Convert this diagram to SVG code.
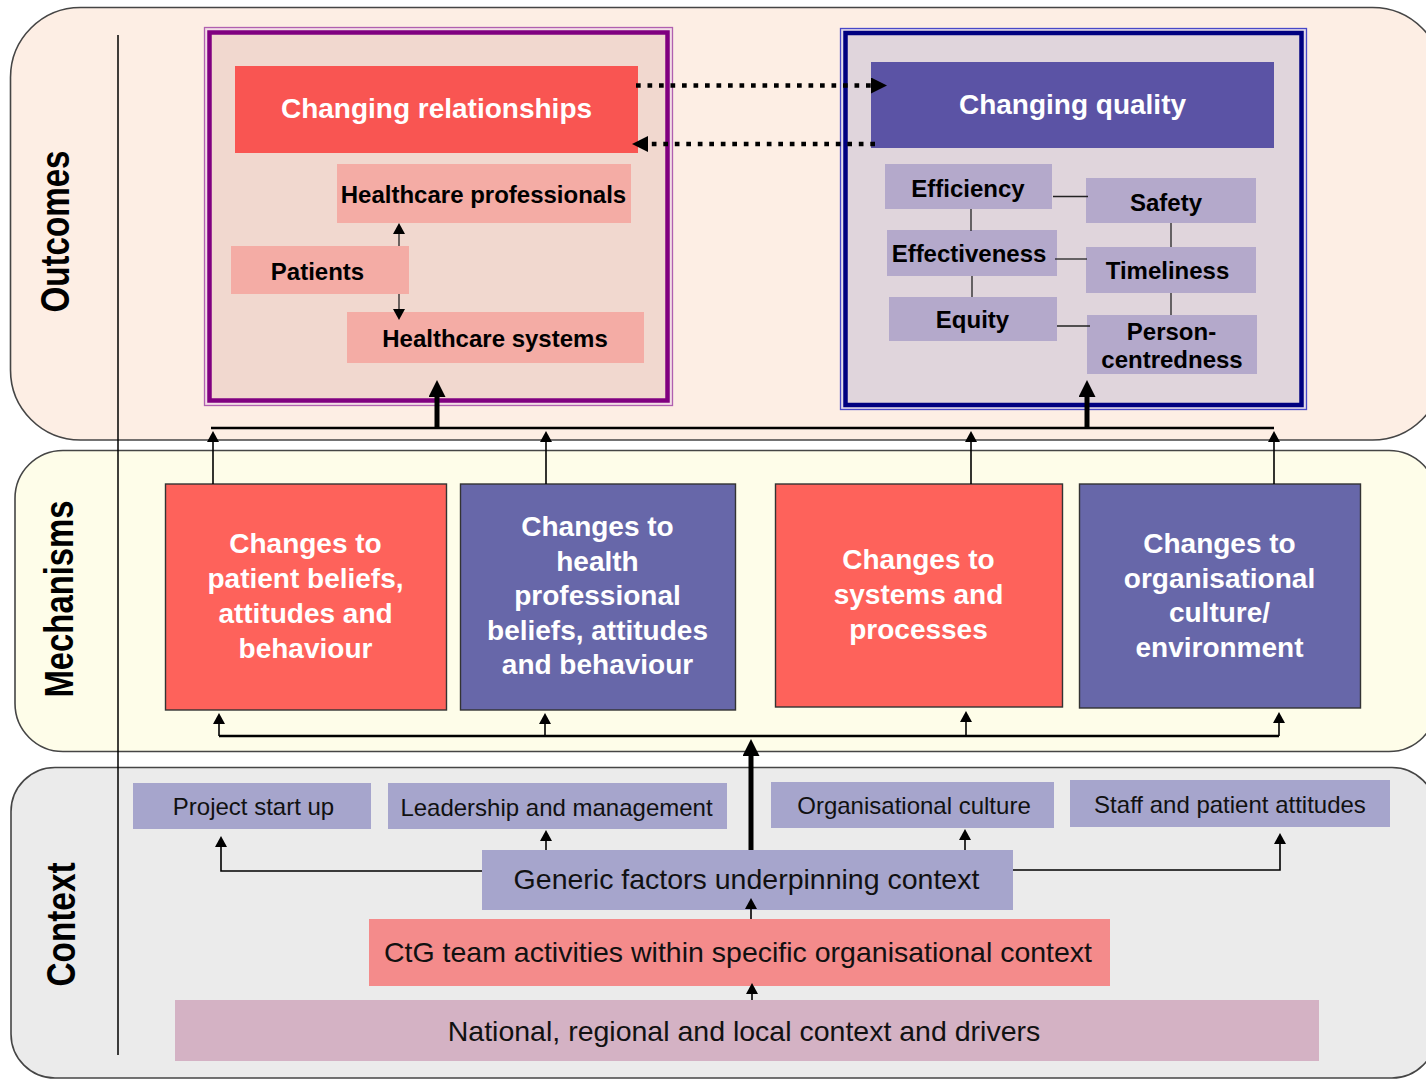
<svg xmlns="http://www.w3.org/2000/svg" width="1426" height="1079" viewBox="0 0 1426 1079">
  <style>
    .band { stroke: #454545; stroke-width: 1.6; }
    .side { font-family: "Liberation Sans", Arial, sans-serif; font-weight: bold; font-size: 40px; fill: #000; text-anchor: middle; }
    .t { font-family: "Liberation Sans", Arial, sans-serif; text-anchor: middle; }
    .hw { font-weight: bold; font-size: 28px; fill: #fff; }
    .sb { font-weight: bold; font-size: 24px; fill: #000; }
    .cs { font-size: 24px; fill: #111; }
    .cl { font-size: 28.5px; fill: #111; }
    .mech { stroke: #333; stroke-width: 1.4; }
    .ln { fill: none; stroke: #000; stroke-width: 1.6; }
    .thin { fill: none; stroke: #222; stroke-width: 1.3; }
    .bar { fill: none; stroke: #000; stroke-width: 2.6; }
    .fat { fill: none; stroke: #000; stroke-width: 5; }
    .dot { fill: none; stroke: #000; stroke-width: 4.7; stroke-dasharray: 4.7 6.8; }
  </style>
  <defs>
    <marker id="head-s" viewBox="0 0 11 12" markerWidth="11" markerHeight="12" refX="1" refY="6" orient="auto" markerUnits="userSpaceOnUse">
      <path d="M0,0 L11,6 L0,12 z" fill="#000"/>
    </marker>
    <marker id="head-l" viewBox="0 0 17 17" markerWidth="17" markerHeight="17" refX="1" refY="8.5" orient="auto" markerUnits="userSpaceOnUse">
      <path d="M0,0 L17,8.5 L0,17 z" fill="#000"/>
    </marker>
    <marker id="head-d" viewBox="0 0 16 16" markerWidth="16" markerHeight="16" refX="1" refY="8" orient="auto" markerUnits="userSpaceOnUse">
      <path d="M0,0 L16,8 L0,16 z" fill="#000"/>
    </marker>
  </defs>

  <!-- layer bands -->
  <g id="band-outcomes">
    <rect class="band" x="10.5" y="7.5" width="1432" height="432.5" rx="70" fill="#fdeee4"/>
    <text class="side" transform="translate(69,231.5) rotate(-90)" textLength="162" lengthAdjust="spacingAndGlyphs">Outcomes</text>
  </g>
  <g id="band-mechanisms">
    <rect class="band" x="15" y="450.5" width="1422" height="301" rx="48" fill="#fefde9"/>
    <text class="side" transform="translate(72.5,599) rotate(-90)" textLength="197" lengthAdjust="spacingAndGlyphs">Mechanisms</text>
  </g>
  <g id="band-context">
    <rect class="band" x="11" y="767.5" width="1425" height="310.5" rx="44" fill="#ebebeb"/>
    <text class="side" transform="translate(75,924.5) rotate(-90)" textLength="124" lengthAdjust="spacingAndGlyphs">Context</text>
  </g>
  <line x1="118" y1="35" x2="118" y2="1055" stroke="#000" stroke-width="1.5"/>

  <!-- outcome containers -->
  <g id="relationships-frame">
    <rect x="204.5" y="27.5" width="468" height="378" fill="#f3dde6" stroke="#b060b0" stroke-width="1.3"/>
    <rect x="209.5" y="32.5" width="458" height="368" fill="#f1d8cf" stroke="#800080" stroke-width="4.5"/>
  </g>
  <g id="quality-frame">
    <rect x="840.5" y="28.5" width="466" height="381" fill="#e4dcea" stroke="#4848c8" stroke-width="1.3"/>
    <rect x="845.5" y="33" width="456" height="372" fill="#e0d5dc" stroke="#000080" stroke-width="4.5"/>
  </g>

  <g id="changing-relationships">
    <rect x="235" y="66" width="403" height="87" fill="#f95552"/>
    <text class="t hw" x="436.5" y="118">Changing relationships</text>
  </g>
  <g id="healthcare-professionals">
    <rect x="337" y="164" width="294" height="59" fill="#f4aca5"/>
    <text class="t sb" x="483.5" y="203">Healthcare professionals</text>
  </g>
  <g id="patients">
    <rect x="231" y="246" width="178" height="48" fill="#f4aca5"/>
    <text class="t sb" x="317.5" y="280">Patients</text>
  </g>
  <g id="healthcare-systems">
    <rect x="347" y="312" width="297" height="51" fill="#f4aca5"/>
    <text class="t sb" x="495" y="347">Healthcare systems</text>
  </g>

  <g id="changing-quality">
    <rect x="871" y="62" width="403" height="86" fill="#5b53a5"/>
    <text class="t hw" x="1072.5" y="114">Changing quality</text>
  </g>
  <g id="efficiency">
    <rect x="885" y="164" width="167" height="45" fill="#b4a9cb"/>
    <text class="t sb" x="968" y="197">Efficiency</text>
  </g>
  <g id="safety">
    <rect x="1086" y="178" width="170" height="45" fill="#b4a9cb"/>
    <text class="t sb" x="1166" y="211">Safety</text>
  </g>
  <g id="effectiveness">
    <rect x="887" y="230" width="170" height="46" fill="#b4a9cb"/>
    <text class="t sb" x="969" y="262">Effectiveness</text>
  </g>
  <g id="timeliness">
    <rect x="1086" y="247" width="170" height="46" fill="#b4a9cb"/>
    <text class="t sb" x="1167.5" y="279">Timeliness</text>
  </g>
  <g id="equity">
    <rect x="889" y="297" width="168" height="44" fill="#b4a9cb"/>
    <text class="t sb" x="972.5" y="328">Equity</text>
  </g>
  <g id="person-centredness">
    <rect x="1087" y="315" width="170" height="59" fill="#b4a9cb"/>
    <text class="t sb" x="1171.5" y="340">Person-</text>
    <text class="t sb" x="1172" y="368">centredness</text>
  </g>

  <!-- mechanisms -->
  <g id="mech-patient">
    <rect class="mech" x="165.5" y="484" width="281" height="226" fill="#fe625b"/>
    <text class="t hw" x="305.5" y="553">Changes to</text>
    <text class="t hw" x="305.5" y="588">patient beliefs,</text>
    <text class="t hw" x="305.5" y="623">attitudes and</text>
    <text class="t hw" x="305.5" y="658">behaviour</text>
  </g>
  <g id="mech-professional">
    <rect class="mech" x="460.5" y="484" width="275" height="226" fill="#6767a9"/>
    <text class="t hw" x="597.5" y="536">Changes to</text>
    <text class="t hw" x="597.5" y="571">health</text>
    <text class="t hw" x="597.5" y="605">professional</text>
    <text class="t hw" x="597.5" y="640">beliefs, attitudes</text>
    <text class="t hw" x="597.5" y="674">and behaviour</text>
  </g>
  <g id="mech-systems">
    <rect class="mech" x="775.5" y="484" width="287" height="223" fill="#fe625b"/>
    <text class="t hw" x="918.5" y="569">Changes to</text>
    <text class="t hw" x="918.5" y="604">systems and</text>
    <text class="t hw" x="918.5" y="639">processes</text>
  </g>
  <g id="mech-culture">
    <rect class="mech" x="1079.5" y="484" width="281" height="224" fill="#6767a9"/>
    <text class="t hw" x="1219.5" y="553">Changes to</text>
    <text class="t hw" x="1219.5" y="588">organisational</text>
    <text class="t hw" x="1219.5" y="622">culture/</text>
    <text class="t hw" x="1219.5" y="657">environment</text>
  </g>

  <!-- context -->
  <g id="project-start-up">
    <rect x="133" y="783" width="238" height="46" fill="#a6a5cc"/>
    <text class="t cs" x="253.5" y="815">Project start up</text>
  </g>
  <g id="leadership">
    <rect x="388" y="783" width="339" height="46" fill="#a6a5cc"/>
    <text class="t cs" x="556.5" y="816">Leadership and management</text>
  </g>
  <g id="organisational-culture">
    <rect x="771" y="782" width="283" height="46" fill="#a6a5cc"/>
    <text class="t cs" x="914" y="814">Organisational culture</text>
  </g>
  <g id="staff-patient-attitudes">
    <rect x="1070" y="780" width="320" height="47" fill="#a6a5cc"/>
    <text class="t cs" x="1230" y="813">Staff and patient attitudes</text>
  </g>
  <g id="generic-factors">
    <rect x="482" y="850" width="531" height="60" fill="#a6a5cc"/>
    <text class="t cl" x="746.5" y="889">Generic factors underpinning context</text>
  </g>
  <g id="ctg-activities">
    <rect x="369" y="919" width="741" height="67" fill="#f48b8b"/>
    <text class="t cl" x="738" y="962">CtG team activities within specific organisational context</text>
  </g>
  <g id="national-context">
    <rect x="175" y="1000" width="1144" height="61" fill="#d4b2c4"/>
    <text class="t cl" x="744" y="1041">National, regional and local context and drivers</text>
  </g>

  <!-- connectors -->
  <g id="connectors">
    <path class="dot" d="M636,85.5 H872" marker-end="url(#head-d)"/>
    <path class="dot" d="M875,144 H647" marker-end="url(#head-d)"/>
    <path class="thin" d="M399,246 V233" marker-end="url(#head-s)"/>
    <path class="thin" d="M399,294 V310" marker-end="url(#head-s)"/>

    <path class="thin" d="M1053,196.5 H1088"/>
    <path class="thin" d="M971,209 V231"/>
    <path class="thin" d="M1055,259 H1087"/>
    <path class="thin" d="M1171,223 V247"/>
    <path class="thin" d="M972,276 V297"/>
    <path class="thin" d="M1171,293 V315"/>
    <path class="thin" d="M1057,326 H1090"/>

    <path class="bar" d="M211,428 H1274"/>
    <path class="fat" d="M437,428 V396" marker-end="url(#head-l)"/>
    <path class="fat" d="M1087,428 V396" marker-end="url(#head-l)"/>
    <path class="ln" d="M213,484 V441" marker-end="url(#head-s)"/>
    <path class="ln" d="M546,484 V441" marker-end="url(#head-s)"/>
    <path class="ln" d="M971,484 V441" marker-end="url(#head-s)"/>
    <path class="ln" d="M1274,484 V441" marker-end="url(#head-s)"/>

    <path class="bar" d="M219,736 H1279"/>
    <path class="ln" d="M219,736 V723" marker-end="url(#head-s)"/>
    <path class="ln" d="M545,736 V723" marker-end="url(#head-s)"/>
    <path class="ln" d="M966,736 V721" marker-end="url(#head-s)"/>
    <path class="ln" d="M1279,736 V722" marker-end="url(#head-s)"/>
    <path class="fat" d="M751,850 V755" marker-end="url(#head-l)"/>

    <path class="ln" d="M482,871 H221 V846" marker-end="url(#head-s)"/>
    <path class="ln" d="M546,850 V840" marker-end="url(#head-s)"/>
    <path class="ln" d="M965,850 V839" marker-end="url(#head-s)"/>
    <path class="ln" d="M1013,870 H1280 V843" marker-end="url(#head-s)"/>
    <path class="ln" d="M751,919 V908" marker-end="url(#head-s)"/>
    <path class="ln" d="M752,1000 V993" marker-end="url(#head-s)"/>
  </g>
</svg>
